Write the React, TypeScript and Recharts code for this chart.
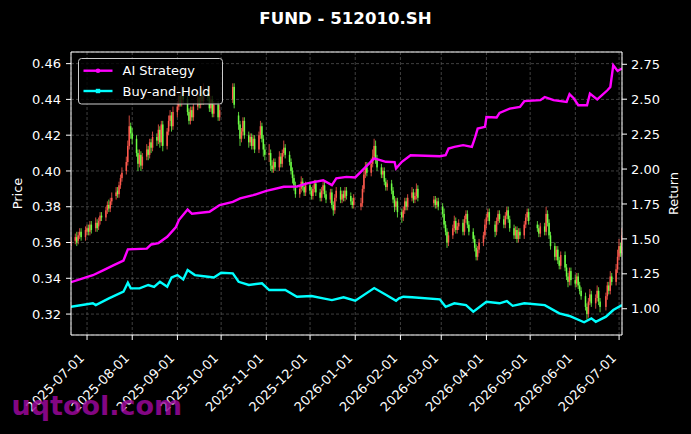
import {
  ComposedChart,
  Bar,
  Line,
  XAxis,
  YAxis,
  CartesianGrid,
  ReferenceLine,
} from "recharts";

// trading calendar (weekdays minus exchange holidays)
const FIRST_DAY = "2025-06-20";
const LAST_DAY = "2026-07-03";
const holidays = [
  "2025-10-01", "2025-10-02", "2025-10-03", "2025-10-06", "2025-10-07", "2025-10-08",
  "2026-01-01", "2026-01-02",
  "2026-02-16", "2026-02-17", "2026-02-18", "2026-02-19", "2026-02-20", "2026-02-23",
  "2026-04-06", "2026-05-01", "2026-05-04", "2026-05-05", "2026-06-19",
];

// prices in thousandths, one per trading day (month per line)
const opens = [
  358, 361, 363, 361, 364, 366, 363,
  366, 368, 366, 370, 368, 371, 369, 372, 375, 374, 378, 381, 379, 383, 386, 389, 387, 392, 396, 400, 405, 414, 425,
  421, 418, 410, 404, 409, 403, 408, 412, 409, 416, 413, 419, 417, 423, 416, 426, 414, 422, 428, 431, 425,
  433, 436, 442, 438, 445, 440, 433, 428, 434, 430, 436, 441, 437, 444, 439, 446, 441, 435, 440, 432, 437, 430,
  440, 447, 431, 426, 418, 422, 428, 420, 416, 419, 414, 418, 412, 420, 425, 418, 412,
  409, 410, 403, 401, 405, 402, 408, 404, 410, 413, 409, 405, 400, 396, 392, 387, 390, 394, 391, 388,
  392, 389, 386, 390, 393, 388, 385, 389, 392, 387, 384, 388, 381, 378, 385, 389, 384, 387, 385, 389, 386, 383, 381,
  380, 382, 390, 398, 402, 399, 404, 408, 414, 406, 402, 398, 400, 394, 391, 393, 389, 384, 380, 383,
  377, 374, 378, 383, 380, 385, 388, 384, 386, 390, 382, 384, 381, 383,
  380, 376, 370, 366, 360, 364, 368, 372, 367, 369, 371, 366, 373, 376, 370, 366, 362, 357, 352, 356, 360, 364,
  370, 374, 377, 370, 366, 372, 376, 373, 370, 375, 378, 373, 368, 364, 367, 362, 366, 364, 370, 374, 377,
  370, 368, 365, 369, 366, 376, 371, 364, 358, 352, 356, 350, 347, 353, 346, 341, 338, 344,
  339, 337, 341, 336, 333, 330, 324, 320, 327, 331, 326, 329, 333, 327, 324, 330, 336, 333, 341, 338, 345,
  352, 358, 354,
];
const highs = [
  363, 365, 366, 366, 368, 368, 369,
  370, 370, 372, 372, 374, 373, 374, 377, 377, 380, 383, 384, 385, 388, 391, 391, 394, 398, 402, 408, 417, 431, 427,
  424, 420, 412, 412, 411, 410, 415, 414, 418, 418, 422, 421, 426, 425, 428, 428, 424, 431, 434, 433, 436,
  439, 445, 444, 448, 447, 442, 435, 436, 436, 438, 444, 443, 447, 446, 449, 448, 443, 442, 442, 439, 439, 437,
  449, 449, 433, 428, 424, 430, 430, 422, 421, 421, 420, 420, 422, 428, 427, 420, 415,
  415, 412, 406, 407, 407, 411, 410, 412, 417, 415, 411, 407, 402, 398, 394, 392, 397, 396, 393, 394,
  394, 391, 392, 395, 395, 390, 391, 394, 394, 389, 390, 390, 383, 387, 391, 391, 389, 389, 391, 391, 388, 385, 387,
  385, 392, 400, 405, 405, 407, 412, 418, 417, 409, 404, 402, 402, 396, 395, 395, 391, 386, 385, 385,
  379, 380, 385, 385, 387, 391, 390, 388, 393, 392, 386, 386, 385, 385,
  382, 379, 372, 368, 366, 370, 375, 374, 371, 373, 373, 375, 378, 378, 372, 368, 364, 359, 358, 362, 366, 373,
  376, 379, 379, 372, 374, 378, 378, 375, 377, 380, 380, 375, 370, 369, 369, 368, 368, 372, 376, 379, 379,
  372, 370, 371, 371, 380, 378, 373, 366, 360, 358, 358, 352, 355, 355, 348, 343, 346, 346,
  342, 343, 343, 338, 335, 332, 326, 329, 334, 333, 331, 336, 335, 329, 332, 338, 338, 344, 343, 348, 356,
  362, 360, 368,
];
const lows = [
  356, 359, 358, 359, 362, 361, 361,
  364, 364, 364, 365, 366, 366, 367, 370, 372, 372, 376, 377, 377, 381, 384, 385, 385, 390, 394, 398, 403, 412, 418,
  415, 408, 400, 402, 400, 401, 406, 406, 407, 410, 411, 414, 415, 413, 414, 411, 412, 420, 425, 422, 423,
  430, 434, 436, 436, 438, 431, 426, 426, 428, 428, 434, 435, 435, 437, 437, 439, 433, 433, 430, 430, 428, 428,
  438, 435, 423, 414, 416, 420, 418, 413, 414, 412, 412, 410, 410, 418, 416, 408, 406,
  405, 400, 399, 399, 400, 400, 402, 402, 408, 407, 403, 398, 393, 389, 385, 385, 388, 389, 386, 386,
  387, 384, 384, 388, 386, 383, 383, 387, 385, 382, 382, 379, 375, 376, 383, 382, 382, 383, 383, 384, 381, 379, 379,
  378, 380, 388, 396, 397, 397, 402, 406, 404, 400, 396, 396, 392, 389, 389, 387, 382, 377, 378, 374,
  371, 372, 376, 378, 378, 383, 382, 382, 384, 383, 380, 379, 379, 378,
  374, 368, 364, 357, 358, 362, 366, 365, 365, 367, 364, 364, 371, 368, 364, 360, 355, 350, 350, 354, 358, 362,
  368, 372, 370, 363, 364, 370, 371, 368, 368, 373, 371, 366, 362, 362, 360, 360, 362, 362, 368, 372, 370,
  366, 363, 363, 364, 364, 369, 362, 356, 350, 350, 348, 345, 345, 344, 339, 335, 336, 336,
  335, 335, 334, 331, 328, 322, 317, 318, 325, 324, 323, 327, 325, 321, 322, 328, 331, 331, 336, 336, 343,
  350, 352, 352,
];
const closes = [
  361, 363, 360, 364, 366, 363, 367,
  368, 366, 370, 367, 371, 368, 372, 375, 374, 378, 381, 379, 383, 385, 388, 387, 392, 396, 399, 405, 414, 425, 421,
  418, 410, 404, 409, 403, 408, 412, 409, 416, 413, 419, 417, 423, 416, 426, 414, 422, 428, 431, 425, 433,
  436, 442, 438, 445, 440, 433, 428, 434, 430, 436, 441, 437, 444, 439, 446, 441, 435, 440, 432, 437, 430, 434,
  447, 437, 426, 418, 422, 428, 420, 416, 419, 414, 418, 412, 420, 425, 418, 412, 409,
  410, 403, 401, 405, 402, 408, 404, 410, 413, 409, 405, 400, 396, 392, 387, 390, 394, 391, 388, 392,
  389, 386, 390, 393, 388, 385, 389, 392, 387, 384, 388, 381, 378, 385, 389, 384, 387, 385, 389, 386, 383, 381, 385,
  382, 390, 398, 402, 399, 404, 408, 414, 406, 402, 398, 400, 394, 391, 393, 389, 384, 380, 383, 377,
  374, 378, 383, 380, 385, 388, 384, 386, 390, 385, 384, 381, 383, 380,
  376, 370, 366, 360, 364, 368, 372, 367, 369, 371, 366, 373, 376, 370, 366, 362, 357, 352, 356, 360, 364, 370,
  374, 377, 372, 366, 372, 376, 373, 370, 375, 378, 373, 368, 364, 367, 362, 366, 364, 370, 374, 377, 372,
  368, 365, 369, 366, 376, 371, 364, 358, 352, 356, 350, 347, 353, 346, 341, 338, 344, 339,
  337, 341, 336, 333, 330, 324, 320, 327, 331, 326, 329, 333, 327, 324, 330, 336, 333, 341, 338, 345, 352,
  358, 354, 364,
];

const aiDates = [
  "2025-06-20", "2025-07-05", "2025-07-12", "2025-07-19", "2025-07-26", "2025-07-29",
  "2025-08-11", "2025-08-14", "2025-08-19", "2025-08-25", "2025-08-31", "2025-09-02",
  "2025-09-08", "2025-09-11", "2025-09-23", "2025-09-30", "2025-10-09", "2025-10-14",
  "2025-10-23", "2025-11-01", "2025-11-13", "2025-11-22", "2025-11-29", "2025-12-10",
  "2025-12-16", "2025-12-19", "2025-12-26", "2026-01-01", "2026-01-06", "2026-01-14",
  "2026-01-22", "2026-01-28", "2026-01-29", "2026-02-02", "2026-02-08", "2026-02-28",
  "2026-03-04", "2026-03-06", "2026-03-10", "2026-03-16", "2026-03-22", "2026-03-24",
  "2026-03-26", "2026-03-31", "2026-04-01", "2026-04-08", "2026-04-10", "2026-04-17",
  "2026-04-24", "2026-04-27", "2026-05-08", "2026-05-11", "2026-05-17", "2026-05-26",
  "2026-05-28", "2026-05-31", "2026-06-03", "2026-06-09", "2026-06-11", "2026-06-16",
  "2026-06-23", "2026-06-25", "2026-06-27", "2026-06-30", "2026-07-03",
];
const aiReturn = [
  1.19, 1.24, 1.275, 1.31, 1.345, 1.425,
  1.43, 1.46, 1.47, 1.515, 1.585, 1.635,
  1.71, 1.68, 1.694, 1.742, 1.765, 1.79,
  1.813, 1.844, 1.873, 1.875, 1.897, 1.92,
  1.885, 1.933, 1.944, 1.94, 1.992, 2.076,
  2.052, 2.05, 2.004, 2.052, 2.099, 2.092,
  2.099, 2.147, 2.159, 2.171, 2.159, 2.219,
  2.29, 2.302, 2.373, 2.369, 2.402, 2.433,
  2.445, 2.486, 2.493, 2.516, 2.493, 2.481,
  2.536, 2.505, 2.457, 2.457, 2.54, 2.498,
  2.564, 2.588, 2.743, 2.702, 2.72,
];

const bhDates = [
  "2025-06-20", "2025-07-05", "2025-07-07", "2025-07-16", "2025-07-26", "2025-07-29",
  "2025-07-31", "2025-08-06", "2025-08-12", "2025-08-16", "2025-08-20", "2025-08-25",
  "2025-08-28", "2025-09-01", "2025-09-05", "2025-09-08", "2025-09-13", "2025-09-22",
  "2025-09-26", "2025-10-01", "2025-10-09", "2025-10-13", "2025-10-20", "2025-10-29",
  "2025-11-03", "2025-11-14", "2025-11-22", "2025-12-02", "2025-12-10", "2025-12-16",
  "2025-12-24", "2026-01-01", "2026-01-14", "2026-01-22", "2026-01-29", "2026-01-31",
  "2026-02-03", "2026-02-09", "2026-02-28", "2026-03-04", "2026-03-10", "2026-03-18",
  "2026-03-23", "2026-04-01", "2026-04-10", "2026-04-15", "2026-04-19", "2026-04-27",
  "2026-05-11", "2026-05-21", "2026-05-28", "2026-06-07", "2026-06-12", "2026-06-15",
  "2026-06-22", "2026-06-27", "2026-07-03",
];
const bhReturn = [
  1.014, 1.039, 1.026, 1.074, 1.122, 1.186,
  1.146, 1.146, 1.17, 1.157, 1.193, 1.157,
  1.224, 1.241, 1.21, 1.277, 1.241, 1.229,
  1.224, 1.258, 1.253, 1.193, 1.17, 1.182,
  1.134, 1.134, 1.086, 1.091, 1.074, 1.062,
  1.082, 1.058, 1.148, 1.1, 1.057, 1.074,
  1.086, 1.082, 1.067, 1.014, 1.039, 1.026,
  0.979, 1.05, 1.039, 1.055, 1.021, 1.039,
  1.026, 0.967, 0.948, 0.903, 0.931, 0.907,
  0.943, 0.991, 1.026,
];

const monthTicks = [
  "2025-07-01", "2025-08-01", "2025-09-01", "2025-10-01", "2025-11-01", "2025-12-01",
  "2026-01-01", "2026-02-01", "2026-03-01", "2026-04-01", "2026-05-01", "2026-06-01", "2026-07-01",
];
const priceTicks = [0.32, 0.34, 0.36, 0.38, 0.4, 0.42, 0.44, 0.46];
const returnTicks = [1, 1.25, 1.5, 1.75, 2, 2.25, 2.5, 2.75];

const FONT = "DejaVu Sans";
const UP = "#ff5a4e";
const DOWN = "#6dff45";
const DAY = 86400000;
const ts = (s: string) => Date.parse(s + "T00:00:00Z");

function tradingDays(): string[] {
  const out: string[] = [];
  for (let t = ts(FIRST_DAY); t <= ts(LAST_DAY); t += DAY) {
    const d = new Date(t);
    const wd = d.getUTCDay();
    const s = d.toISOString().slice(0, 10);
    if (wd === 0 || wd === 6 || holidays.includes(s)) continue;
    out.push(s);
  }
  return out;
}

const candles = tradingDays()
  .slice(0, closes.length)
  .map((d, i) => ({
    t: ts(d),
    o: opens[i] / 1000,
    h: highs[i] / 1000,
    l: lows[i] / 1000,
    c: closes[i] / 1000,
    range: [lows[i] / 1000, highs[i] / 1000],
  }));
const aiRows = aiDates.map((d, i) => ({ t: ts(d), v: aiReturn[i] }));
const bhRows = bhDates.map((d, i) => ({ t: ts(d), v: bhReturn[i] }));

function Candle(props: any) {
  const { x, y, width, height, payload } = props;
  if (!payload) return null;
  const { o, h, l, c } = payload;
  const top = Math.min(y, y + height);
  const hgt = Math.abs(height);
  const span = h - l || 1;
  const py = (v: number) => top + ((h - v) / span) * hgt;
  const cx = x + width / 2;
  const color = c >= o ? UP : DOWN;
  const b1 = py(Math.max(o, c));
  const b2 = py(Math.min(o, c));
  return (
    <g>
      <line x1={cx} x2={cx} y1={top} y2={top + hgt} stroke={color} strokeWidth={0.8} />
      <rect x={cx - 0.75} y={b1} width={1.5} height={Math.max(b2 - b1, 0.8)} fill={color} />
    </g>
  );
}

function DateTick({ x, y, payload }: any) {
  const label = new Date(payload.value).toISOString().slice(0, 10);
  const ax = x - 2;
  const ay = y + 17;
  return (
    <text
      x={ax}
      y={ay}
      transform={`rotate(-45 ${ax} ${ay})`}
      textAnchor="end"
      fill="#fff"
      fontSize={13}
      fontFamily={FONT}
    >
      {label}
    </text>
  );
}

const PRICE_DOMAIN = [0.3083, 0.4665];
const RETURN_DOMAIN = [0.812, 2.838];

export default function App() {
  return (
    <div
      style={{
        position: "absolute",
        left: 0,
        top: 0,
        width: 691,
        height: 434,
        background: "#000",
        fontFamily: FONT,
      }}
    >
      <ComposedChart
        width={691}
        height={434}
        data={candles}
        margin={{ top: 52, right: 0, bottom: 0, left: 0 }}
      >
        <CartesianGrid
          yAxisId="price"
          stroke="#5a5a5a"
          strokeWidth={0.7}
          strokeDasharray="3 2"
        />
        <XAxis
          dataKey="t"
          type="number"
          domain={[ts(FIRST_DAY), ts(LAST_DAY)]}
          allowDataOverflow
          ticks={monthTicks.map(ts)}
          interval={0}
          tick={<DateTick />}
          tickSize={5}
          height={99}
          stroke="#fff"
        />
        <YAxis
          yAxisId="price"
          orientation="left"
          width={71}
          domain={PRICE_DOMAIN}
          allowDataOverflow
          ticks={priceTicks}
          interval={0}
          tickFormatter={(v: number) => v.toFixed(2)}
          tick={{ fill: "#fff", fontSize: 13, fontFamily: FONT }}
          tickSize={5}
          tickMargin={5}
          stroke="#fff"
        />
        <YAxis
          yAxisId="ret"
          orientation="right"
          width={69}
          domain={RETURN_DOMAIN}
          allowDataOverflow
          ticks={returnTicks}
          interval={0}
          tickFormatter={(v: number) => v.toFixed(2)}
          tick={{ fill: "#fff", fontSize: 13, fontFamily: FONT }}
          tickSize={5}
          tickMargin={4}
          stroke="#fff"
        />
        <ReferenceLine yAxisId="price" y={PRICE_DOMAIN[1]} stroke="#fff" strokeWidth={1} />
        <Bar
          yAxisId="price"
          dataKey="range"
          barSize={1.5}
          shape={(p: any) => <Candle {...p} />}
          isAnimationActive={false}
        />
        <Line
          yAxisId="ret"
          data={aiRows}
          dataKey="v"
          stroke="#ff00ff"
          strokeWidth={2.4}
          dot={false}
          isAnimationActive={false}
        />
        <Line
          yAxisId="ret"
          data={bhRows}
          dataKey="v"
          stroke="#00ffff"
          strokeWidth={2.4}
          dot={false}
          isAnimationActive={false}
        />
      </ComposedChart>
      <svg
        width={691}
        height={434}
        style={{ position: "absolute", left: 0, top: 0, pointerEvents: "none" }}
        fontFamily={FONT}
      >
        <text x={345.5} y={24} textAnchor="middle" fill="#fff" fontSize={16.6} fontWeight="bold">
          FUND - 512010.SH
        </text>
        <text
          x={17}
          y={193.5}
          transform="rotate(-90 17 193.5)"
          textAnchor="middle"
          dominantBaseline="central"
          fill="#fff"
          fontSize={13}
        >
          Price
        </text>
        <text
          x={673}
          y={193.5}
          transform="rotate(-90 673 193.5)"
          textAnchor="middle"
          dominantBaseline="central"
          fill="#fff"
          fontSize={13}
        >
          Return
        </text>
        <g>
          <rect x={78.5} y={58.5} width={144} height={45.5} rx={3} fill="rgba(0,0,0,0.8)" stroke="#cccccc" strokeWidth={1} />
          <line x1={83.5} x2={112.5} y1={70.7} y2={70.7} stroke="#ff00ff" strokeWidth={2.4} />
          <circle cx={98} cy={70.7} r={2.3} fill="#ff00ff" />
          <text x={122.5} y={75.4} fill="#fff" fontSize={13}>AI Strategy</text>
          <line x1={83.5} x2={112.5} y1={91} y2={91} stroke="#00ffff" strokeWidth={2.4} />
          <rect x={95.8} y={88.8} width={4.4} height={4.4} fill="#00ffff" />
          <text x={122.5} y={95.7} fill="#fff" fontSize={13}>Buy-and-Hold</text>
        </g>
        <text x={11.5} y={415} fill="#9c089c" fillOpacity={0.85} fontSize={27} fontWeight="bold">
          uqtool.com
        </text>
      </svg>
    </div>
  );
}
